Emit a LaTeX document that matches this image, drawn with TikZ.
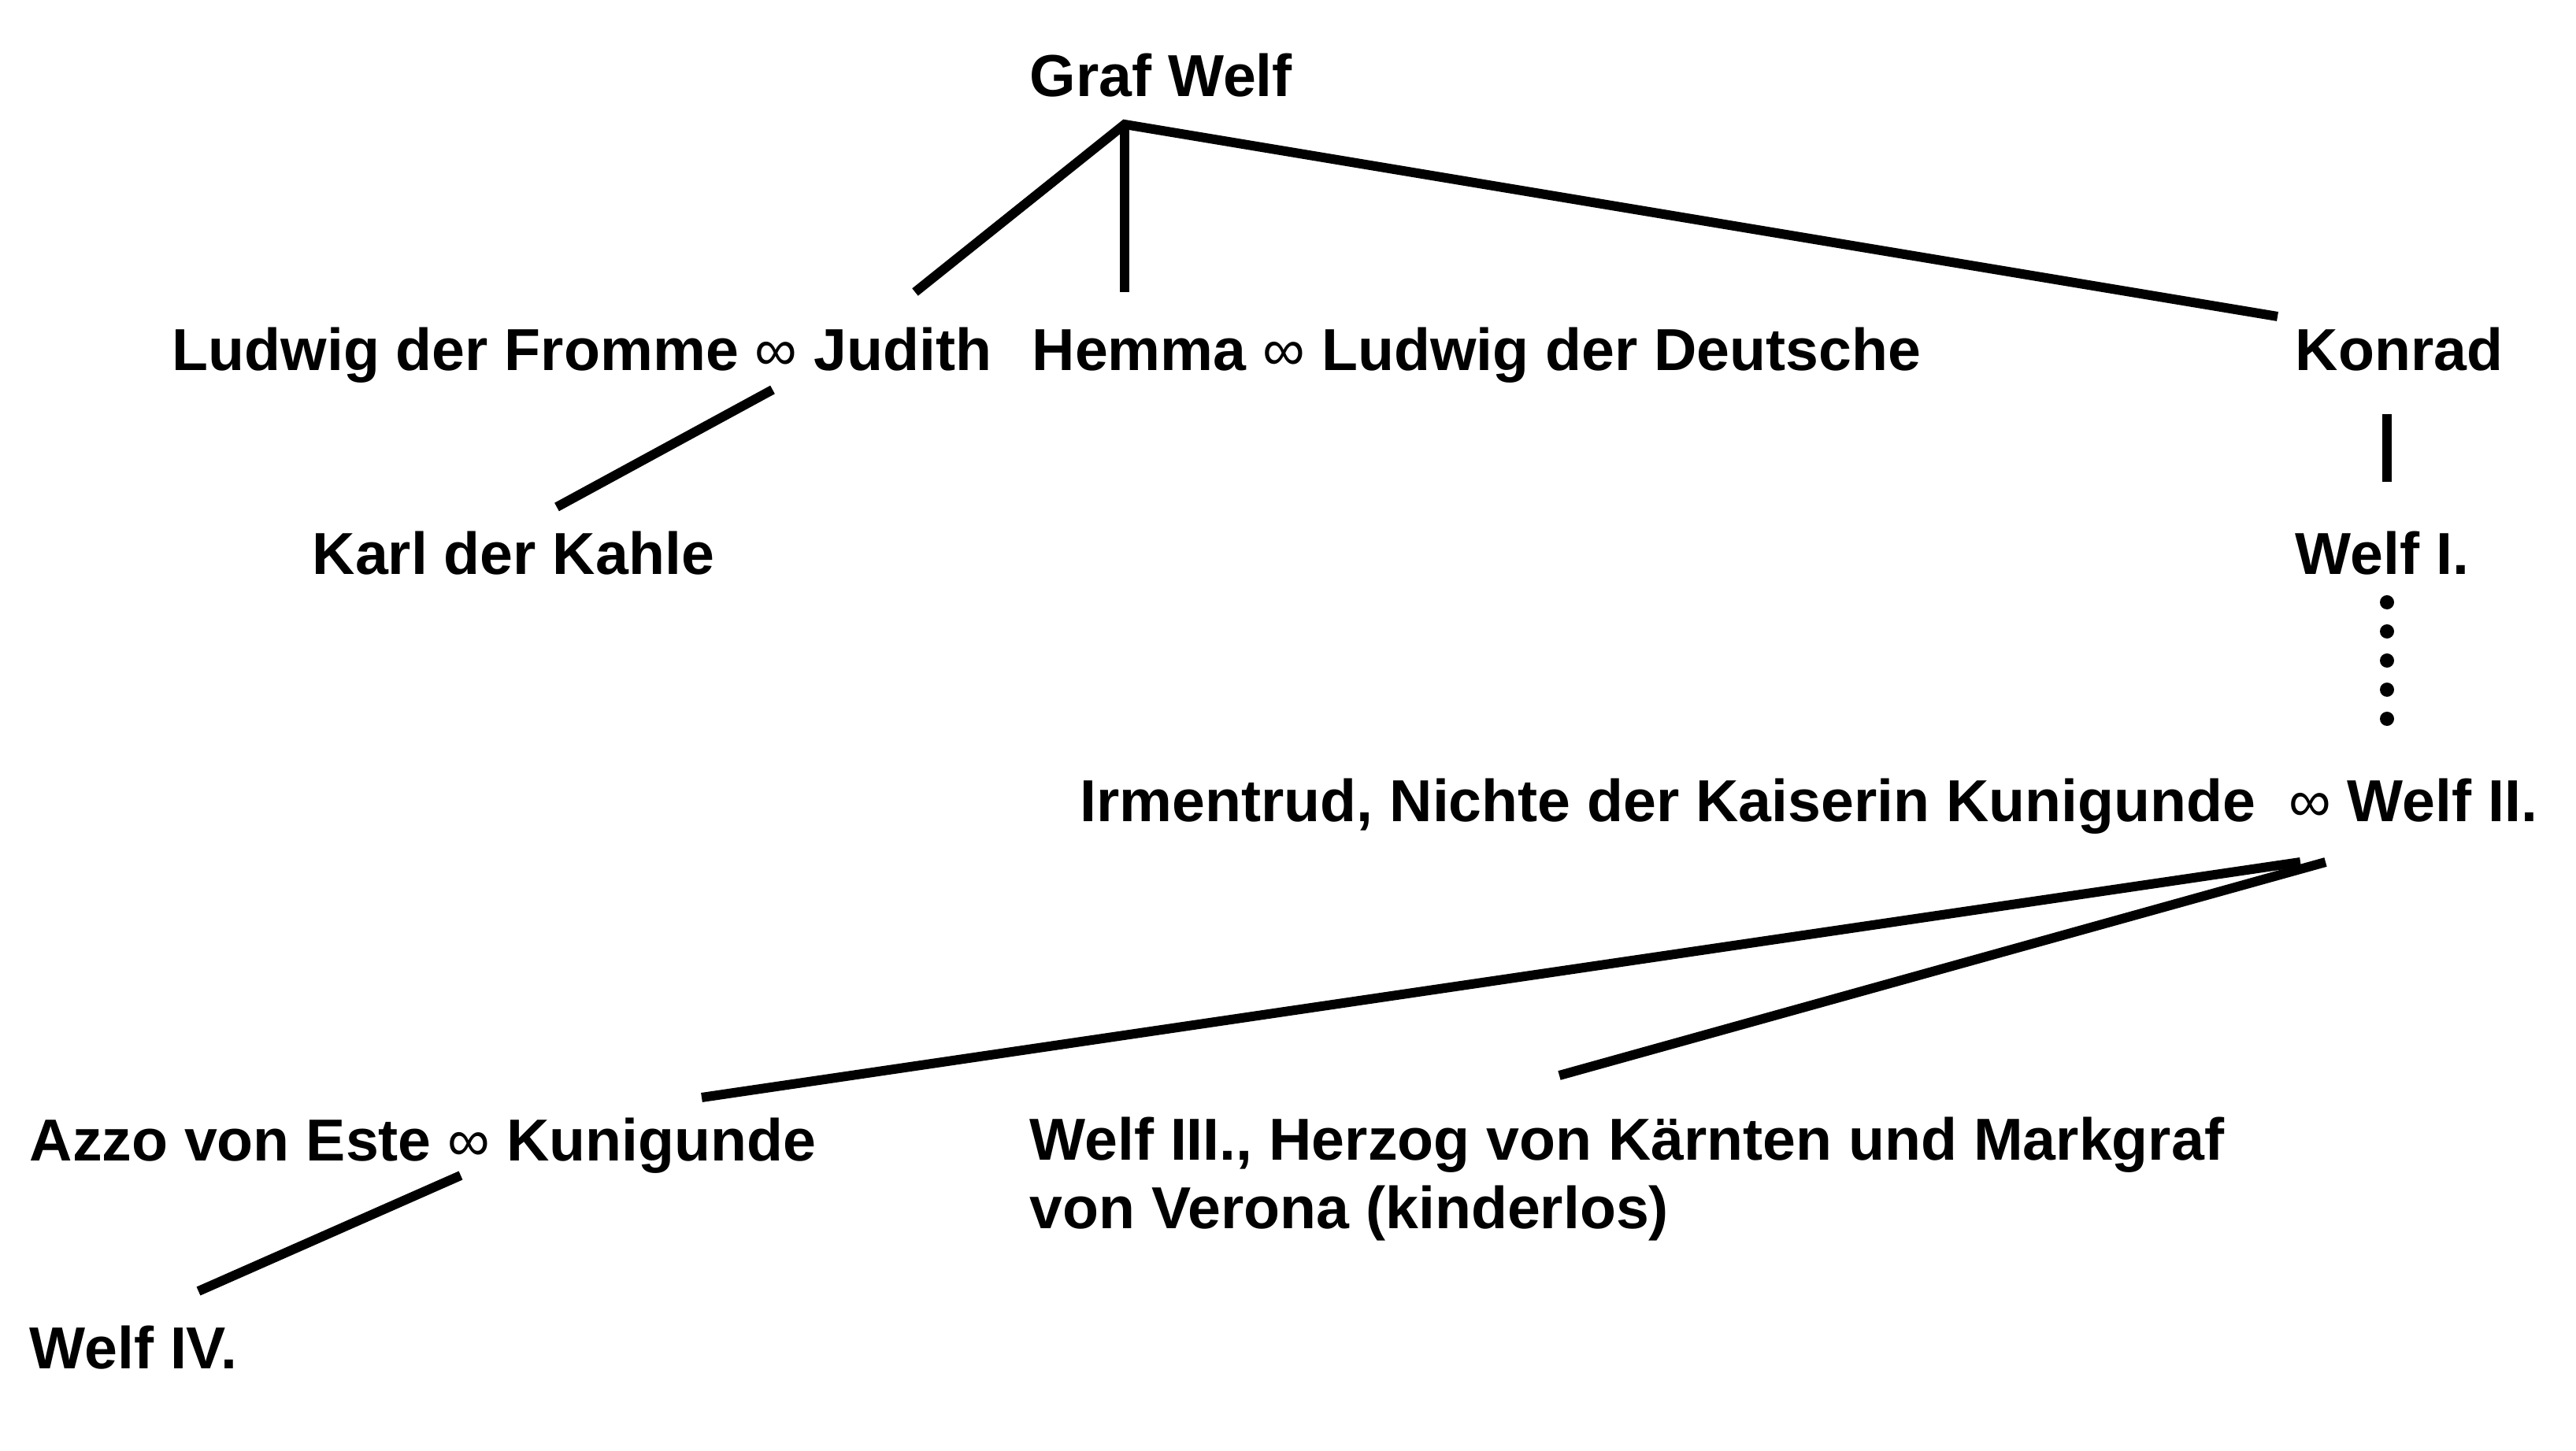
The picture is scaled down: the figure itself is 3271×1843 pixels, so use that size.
\documentclass[tikz,border=0pt]{standalone}
\usepackage{fontspec}
\setmainfont{Liberation Sans}
\usetikzlibrary{calc}
\newcommand{\verh}{{\mdseries ∞}}
\tikzset{
	person/.style={anchor=base west, inner sep=0pt, align=left, font=\bfseries\fontsize{21.4}{24.5}\selectfont},
	link/.style={line width=1.2mm}
}

\begin{document}
\begin{tikzpicture}[x=0.01cm, y=-0.01cm]
			%%%%% START %%%%%
			
			\fill[white] (0, 0) rectangle (3271, 1843);
			\useasboundingbox (0, 0) rectangle (3271, 1843);
			
			\node[person] (grafwelf) at (1307, 123) {Graf Welf};
			
			\node[person] (ludwig) at (218, 471) {Ludwig der Fromme \verh{} Judith};
			\node[person] (hemma) at (1310, 471) {Hemma \verh{} Ludwig der Deutsche};
			\node[person] (konrad) at (2914, 471) {Konrad};
			
			\node[person] (karl) at (396, 730) {Karl der Kahle};
			\node[person] (welfI) at (2914, 730) {Welf I.};
			
			\node[person] (irmentrud) at (1371, 1044) {Irmentrud, Nichte der Kaiserin Kunigunde\ \ \verh{} Welf II.};
			
			\node[person] (azzo) at (37, 1474) {Azzo von Este \verh{} Kunigunde};
			\node[person] (welfIII) at (1307, 1560) {Welf III., Herzog von Kärnten und Markgraf\\von Verona (kinderlos)};
			
			\node[person] (welfIV) at (37, 1738) {Welf IV.};
			
			% joints of the lines
			\coordinate (gw-top) at (1428, 158);
			\coordinate (ludwig-top) at (1162, 371);
			\coordinate (hemma-top) at (1428, 371);
			\coordinate (konrad-top) at (2892, 402);
			\coordinate (ludwig-bot) at (981, 495);
			\coordinate (karl-top) at (707, 644);
			\coordinate (konrad-bot) at (3031, 526);
			\coordinate (welfI-top) at (3031, 612);
			\coordinate (welfII-a) at (2921, 1095);
			\coordinate (welfII-b) at (2953, 1095);
			\coordinate (azzo-top) at (891, 1394);
			\coordinate (welfIII-top) at (1980, 1366);
			\coordinate (azzo-bot) at (585, 1493);
			\coordinate (welfIV-top) at (252, 1640);
			
			\draw[link] (ludwig-top) -- (gw-top) -- (konrad-top);
			\draw[link] (gw-top) -- (hemma-top);
			\draw[link] (ludwig-bot) -- (karl-top);
			\draw[link] (konrad-bot) -- (welfI-top);
			
			\foreach \y in {765, 802, 839, 876, 913}
				\fill (3031, \y) circle (0.9mm);
			
			\draw[link] (welfII-a) -- (azzo-top);
			\draw[link] (welfII-b) -- (welfIII-top);
			\draw[link] (azzo-bot) -- (welfIV-top);
			
			%%%%% END %%%%%
\end{tikzpicture}
\end{document}
